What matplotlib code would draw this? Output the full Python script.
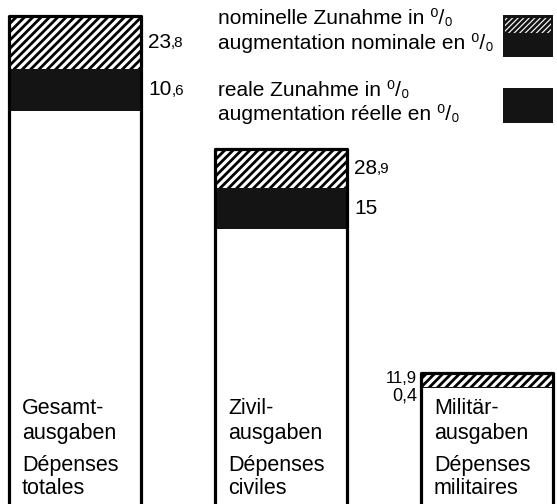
import numpy as np
import matplotlib
matplotlib.use('Agg')
import matplotlib.pyplot as plt
from matplotlib.patches import Rectangle

# ─── DATA ────────────────────────────────────────────────────────────────
names_de = ['Gesamt-', 'Zivil-', 'Militär-']
names_de2 = ['ausgaben', 'ausgaben', 'ausgaben']
names_fr = ['Dépenses', 'Dépenses', 'Dépenses']
names_fr2 = ['totales', 'civiles', 'militaires']
base = [100, 70, 30]           # relative size of the expenditure (before)
nominal = [23.8, 28.9, 11.9]   # nominal increase in %
real = [10.6, 15.0, 0.4]       # real increase in %

# ─── STYLE ───────────────────────────────────────────────────────────────
FONT = ['Liberation Sans', 'DejaVu Sans']
plt.rcParams['font.family'] = FONT
plt.rcParams['hatch.linewidth'] = 2.0
BLACK = '#141414'

W, H = 557, 504
fig = plt.figure(figsize=(W / 100, H / 100), dpi=100, facecolor='white')
ax = fig.add_axes([0, 0, 1, 1])
ax.axis('off')

x = np.arange(len(base))
width = 132 / 206
ax.set_xlim(-75 / 206, (W - 75) / 206)
ax.set_ylim(0.6, H / 3.94)

base = np.array(base, float)
nominal = np.array(nominal)
real = np.array(real)
real_h = base * real / 100
hatch_h = base * (nominal - real) / 100
top = base + real_h + hatch_h

ax.bar(x, base, width, color='white', linewidth=0)
ax.bar(x, real_h, width, bottom=base, color=BLACK, linewidth=0)
ax.bar(x, hatch_h, width, bottom=base + real_h, color='white',
       edgecolor='black', linewidth=0, hatch='////')
ax.bar(x, top, width, fill=False, edgecolor='black', linewidth=2.3,
       joinstyle='round')

# ─── VALUE LABELS ────────────────────────────────────────────────────────
def split_label(xv, yv, value, big=15, small=11):
    s = f'{value:g}'.replace('.', ',')
    if ',' in s:
        ip, dp = s.split(',')
        dp = ',' + dp
    else:
        ip, dp = s, ''
    t = ax.annotate(ip, (xv, yv), xytext=(5, 0), textcoords='offset points',
                    ha='left', va='center', fontsize=big)
    if dp:
        ax.annotate(dp, xy=(1, 0.08), xycoords=t, ha='left', va='bottom',
                    fontsize=small)

for i in range(2):
    xr = x[i] + width / 2
    split_label(xr, base[i] + real_h[i] + hatch_h[i] / 2, nominal[i])
    split_label(xr, base[i] + real_h[i] / 2, real[i])

xl = x[2] - width / 2
ax.annotate(f'{nominal[2]:g}'.replace('.', ','), (xl, top[2]), xytext=(-3, -3.5),
            textcoords='offset points', ha='right', va='center', fontsize=12)
ax.annotate(f'{real[2]:g}'.replace('.', ','), (xl, top[2]), xytext=(-3, -16.5),
            textcoords='offset points', ha='right', va='center', fontsize=13)

# ─── CATEGORY TEXT INSIDE BARS ───────────────────────────────────────────
rows = [408, 433, 465, 489]
for i in range(len(base)):
    lines = [names_de[i], names_de2[i], names_fr[i], names_fr2[i]]
    for txt, yp in zip(lines, rows):
        ax.text(x[i] - width / 2 + 13 / 206, 1 - yp / H, txt,
                transform=ax.get_xaxis_transform(), ha='left', va='center',
                fontsize=15.5)

# ─── LEGEND ──────────────────────────────────────────────────────────────
leg = [(18, 'nominelle Zunahme in ⁰/₀'),
       (43, 'augmentation nominale en ⁰/₀'),
       (90, 'reale Zunahme in ⁰/₀'),
       (114, 'augmentation réelle en ⁰/₀')]
for yp, txt in leg:
    fig.text(218 / W, 1 - yp / H, txt, ha='left', va='center', fontsize=15)

def px_rect(x0, y0, x1, y1, **kw):
    r = Rectangle((x0 / W, 1 - y1 / H), (x1 - x0) / W, (y1 - y0) / H,
                  transform=fig.transFigure, **kw)
    fig.patches.append(r)

px_rect(503, 15, 553, 57, facecolor=BLACK, edgecolor='none')
px_rect(505, 18, 551, 33, facecolor='white', edgecolor=BLACK, linewidth=0,
        hatch='//////')
px_rect(503, 88, 553, 123, facecolor=BLACK, edgecolor='none')

plt.savefig('out.png', dpi=100, facecolor='white')
